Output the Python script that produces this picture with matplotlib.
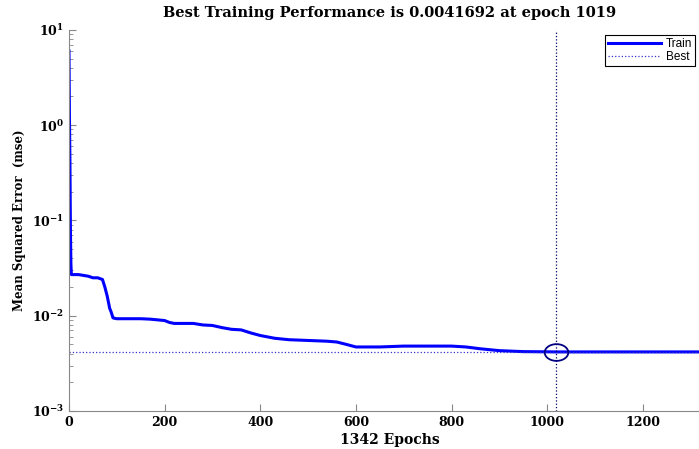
import matplotlib.pyplot as plt
import numpy as np

# train performance (epoch, mse)
epochs = [0, 1, 2, 3, 4, 5, 10, 20, 40, 50, 60, 70, 75, 80, 85, 88, 92, 95, 100, 150, 170, 200, 210, 220,
          260, 280, 300, 320, 340, 360, 380, 400, 430, 460, 500, 540, 560, 580, 600, 650, 700, 800, 830,
          860, 900, 950, 1000, 1019, 1100, 1200, 1342]
mse = [6.0, 1.2, 0.4, 0.08, 0.035, 0.027, 0.027, 0.027, 0.026, 0.025, 0.025, 0.024, 0.02, 0.016, 0.012,
       0.011, 0.0095, 0.0094, 0.0093, 0.0093, 0.0092, 0.0089, 0.0085, 0.0083, 0.0083, 0.008, 0.0079, 0.0075,
       0.0072, 0.0071, 0.0066, 0.0062, 0.0058, 0.0056, 0.0055, 0.0054, 0.0053, 0.005, 0.0047, 0.0047,
       0.0048, 0.0048, 0.0047, 0.0045, 0.0043, 0.0042, 0.00418, 0.0041692, 0.0041692, 0.0041692, 0.0041692]
best_epoch = 1019
best_perf = 0.0041692
n_epochs = 1342

fig = plt.figure(figsize=(6.99, 4.49), dpi=100)
ax = fig.add_axes([0.0987, 0.0846, 0.918, 0.849])

serif = 'DejaVu Serif'

ax.semilogy(epochs, mse, color='#0000ff', lw=2.2, label='Train')
ax.axhline(best_perf, color='#3333cc', lw=0.9, ls=':', label='Best')
ax.axvline(best_epoch, color='#000066', lw=0.9, ls=':')
# slightly wide circle around the best point, like the original
ax.plot(best_epoch, best_perf, marker=(np.c_[np.cos(np.linspace(0, 2 * np.pi, 60)) * 1.2,
                                             np.sin(np.linspace(0, 2 * np.pi, 60)) * 0.85]),
        ms=17, mfc='none', mec='#000080', mew=1.3, ls='none')

ax.set_xlim(0, n_epochs)
ax.set_ylim(1e-3, 1e1)
ax.set_xticks([0, 200, 400, 600, 800, 1000, 1200])

for s in ['top', 'right']:
    ax.spines[s].set_visible(False)
for s in ['left', 'bottom']:
    ax.spines[s].set_color('#888888')
ax.tick_params(which='both', direction='in', colors='#888888', labelcolor='black')
ax.tick_params(which='major', length=5)
ax.tick_params(which='minor', length=3)

for lab in ax.get_xticklabels() + ax.get_yticklabels():
    lab.set_fontfamily(serif)
    lab.set_fontweight('bold')
    lab.set_fontsize(9)

ax.set_title('Best Training Performance is 0.0041692 at epoch 1019',
             fontfamily=serif, fontweight='bold', fontsize=10.5, pad=9)
ax.set_xlabel('1342 Epochs', fontfamily=serif, fontweight='bold', fontsize=10, labelpad=3)
ax.set_ylabel('Mean Squared Error  (mse)', fontfamily=serif, fontweight='bold', fontsize=8.5, labelpad=4)

leg = ax.legend(loc='upper right', bbox_to_anchor=(695 / 699, 1 - 35 / 449),
                bbox_transform=fig.transFigure, borderaxespad=0, fancybox=False,
                edgecolor='black', framealpha=1, handlelength=4.5,
                borderpad=0.25, labelspacing=0.1, handletextpad=0.4,
                prop={'family': 'Liberation Sans', 'size': 8.5})
leg.get_frame().set_linewidth(0.8)

fig.savefig('out.png', dpi=100)
